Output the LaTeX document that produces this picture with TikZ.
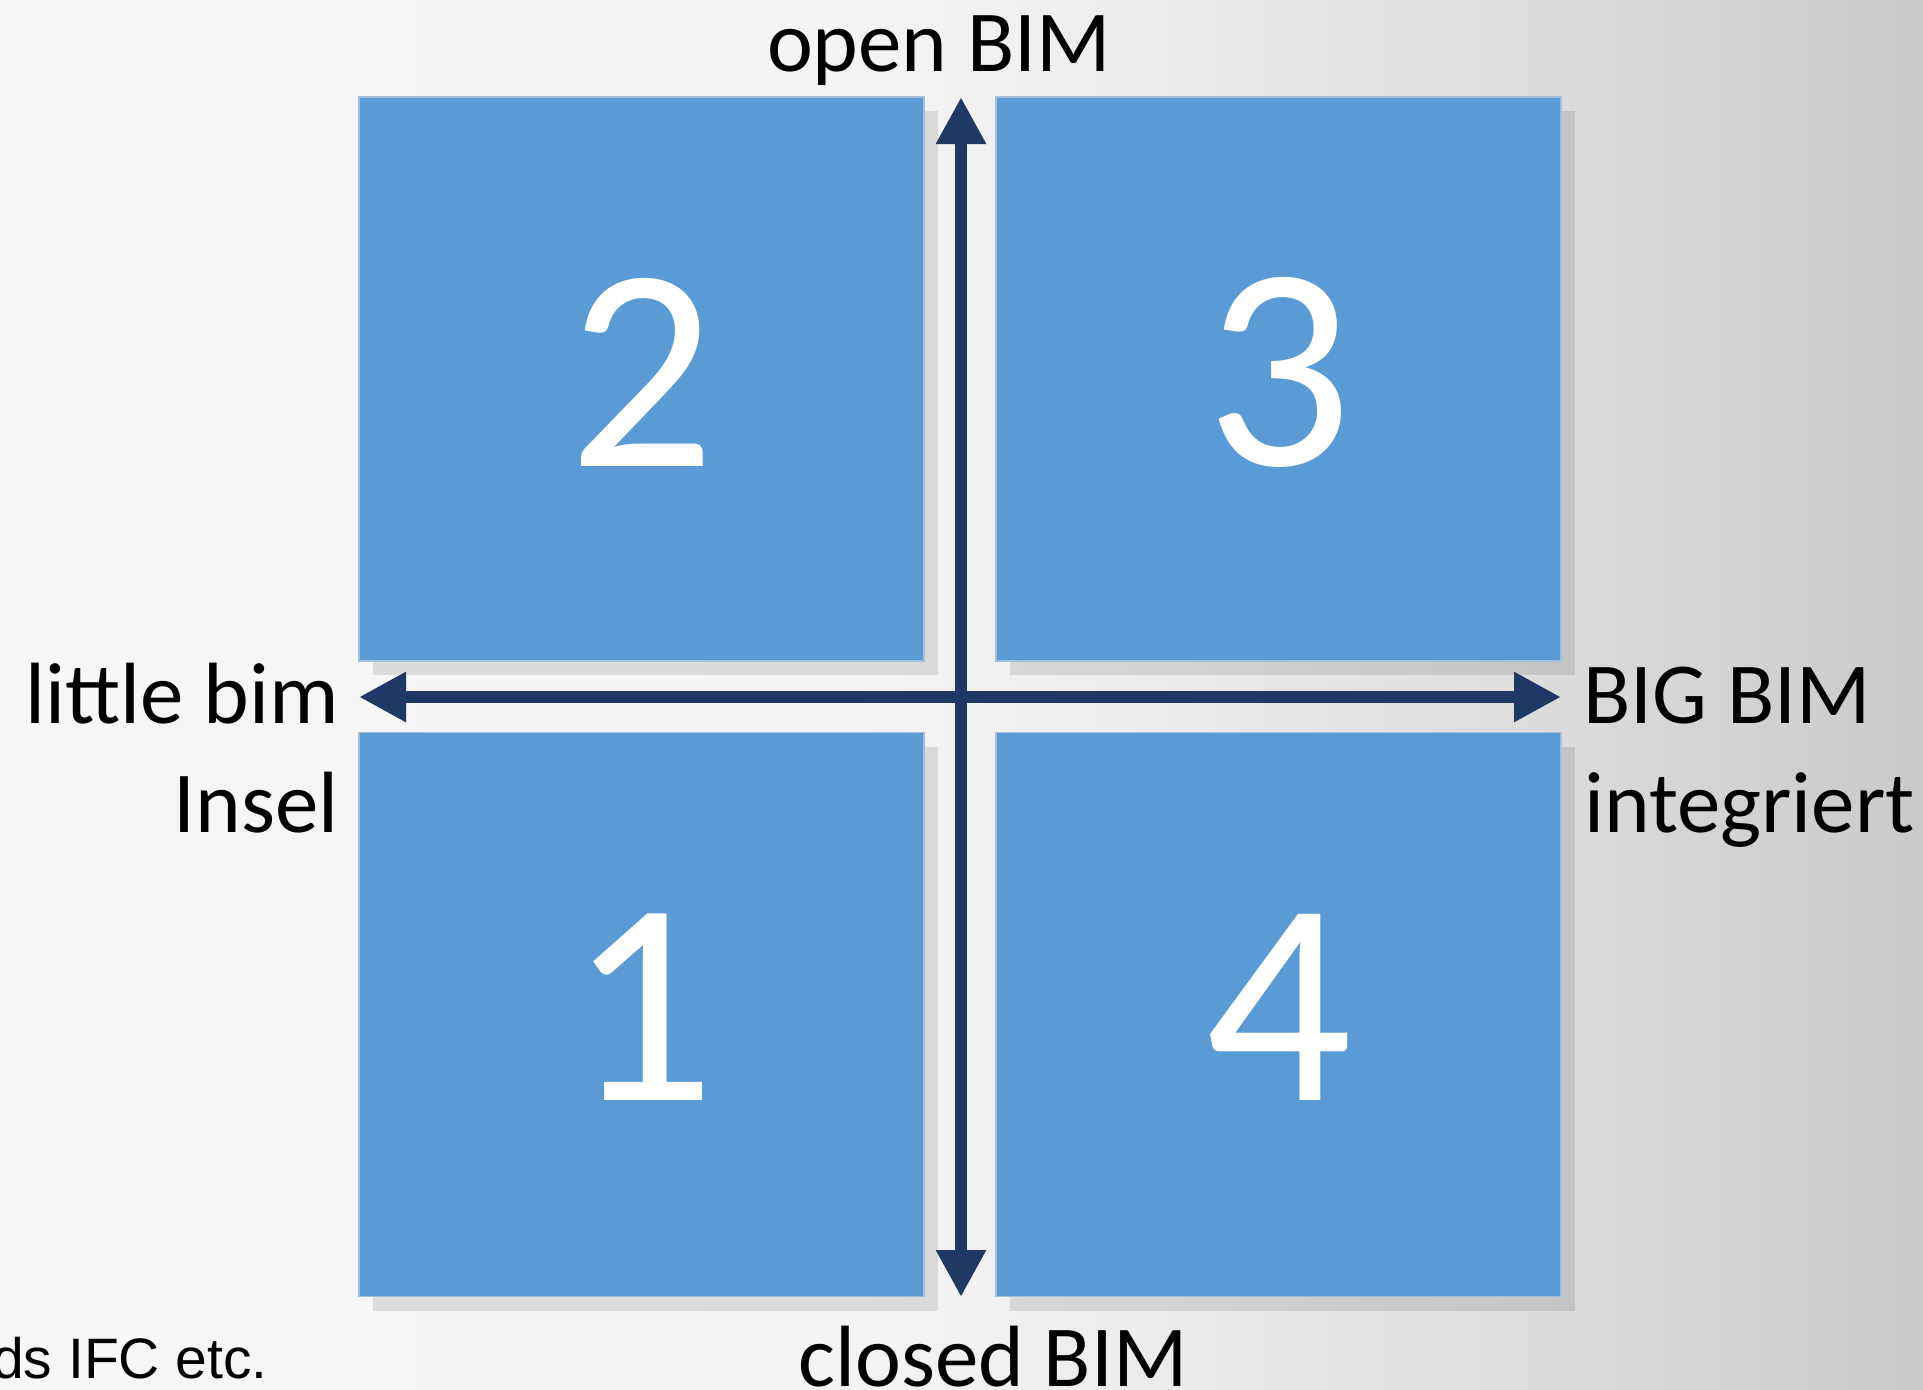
\documentclass[tikz,border=0pt]{standalone}
\usepackage{fontspec}
\setmainfont{Carlito}
\newfontfamily\arialfont{Liberation Sans}
\usetikzlibrary{arrows.meta,shadows}
\definecolor{boxblue}{HTML}{5B9BD5}
\definecolor{boxedge}{HTML}{A3BFDB}
\definecolor{axisnavy}{HTML}{203864}
\definecolor{bgA}{HTML}{F7F7F7}
\definecolor{bgB}{HTML}{F4F4F4}
\definecolor{bgC}{HTML}{ECECEC}
\definecolor{bgD}{HTML}{DCDCDC}
\definecolor{bgE}{HTML}{CACACA}
\pgfdeclarehorizontalshading{bgshade}{100bp}{color(0bp)=(bgA); color(25bp)=(bgA); color(47bp)=(bgB); color(55bp)=(bgC); color(65bp)=(bgD); color(75bp)=(bgE); color(100bp)=(bgE)}
\begin{document}
\begin{tikzpicture}[x=1pt,y=-1pt,
  quad/.style={rectangle, fill=boxblue, draw=boxedge, line width=1.2pt,
    minimum width=565pt, minimum height=564pt, inner sep=0pt,
    drop shadow={shadow xshift=14pt, shadow yshift=-14pt, fill=black, opacity=0.1}},
  digit/.style={text=white, font=\fontsize{290}{290}\selectfont, inner sep=0pt},
  lbl/.style={text=black, font=\fontsize{87}{87}\selectfont, inner sep=0pt},
  note/.style={text=black, font=\arialfont\fontsize{57}{57}\selectfont, inner sep=0pt},
  axis/.style={draw=axisnavy, line width=12pt,
    {Triangle[length=47pt,width=47pt]}-{Triangle[length=47pt,width=47pt]}}]
\shade[shading=bgshade] (0,0) rectangle (1923,1390);
\useasboundingbox (0,0) rectangle (1923,1390);
% quadrants
\node[quad] (q2) at (641.5,379) {};
\node[quad] (q3) at (1278.5,379) {};
\node[quad] (q1) at (641.5,1014.5) {};
\node[quad] (q4) at (1278.5,1014.5) {};
% digits
\node[digit] (d2) at ([yshift=7pt]q2.center) {2};
\node[digit] (d3) at ([yshift=7pt]q3.center) {3};
\node[digit] (d1) at ([yshift=7pt]q1.center) {1};
\node[digit] (d4) at ([yshift=7pt]q4.center) {4};
% axes
\coordinate (vtop) at (961,97);
\coordinate (vbot) at (961,1297);
\coordinate (hleft) at (359,697);
\coordinate (hright) at (1561,697);
\draw[axis] (hleft) -- (hright);
\draw[axis] (vbot) -- (vtop);
% labels
\node[lbl, anchor=base] (open) at (939,71) {open BIM};
\node[lbl, anchor=base] (closed) at (993,1386) {closed BIM};
\node[lbl, anchor=base east] (little) at (339,723) {little bim};
\node[lbl, anchor=base east] (insel) at (339,832) {Insel};
\node[lbl, anchor=base west] (big) at (1583,723) {BIG BIM};
\node[lbl, anchor=base west] (integ) at (1584,832) {integriert};
\node[note, anchor=base east] (ifc) at (268,1378) {ds IFC etc.};
\end{tikzpicture}
\end{document}
